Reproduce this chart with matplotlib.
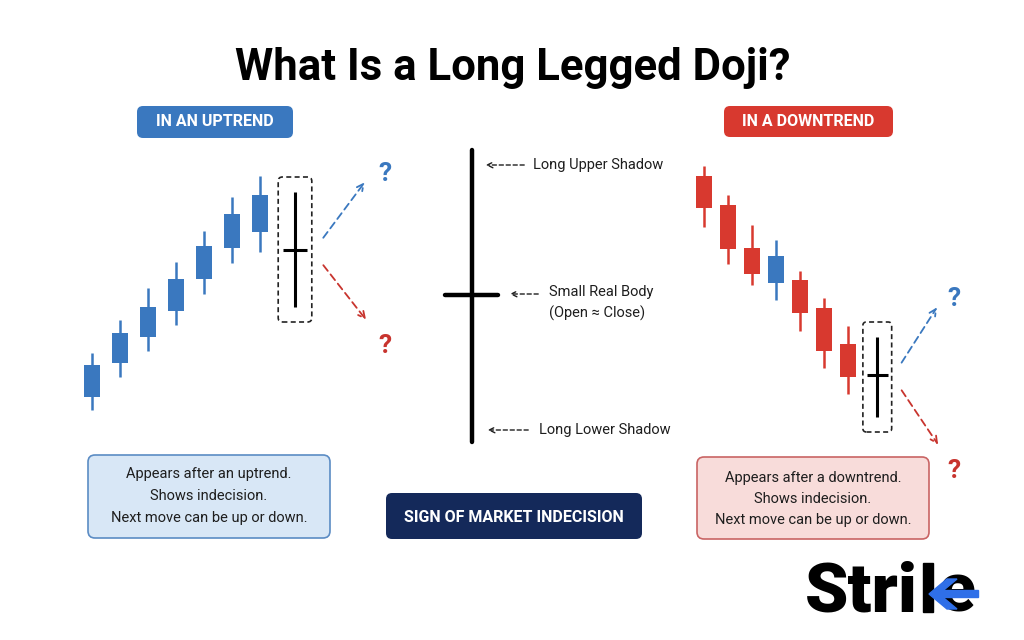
"""Long legged doji infographic: uptrend / downtrend candles and anatomy sketch."""
import matplotlib.pyplot as plt
from matplotlib.patches import FancyBboxPatch, Polygon, Rectangle

plt.rcParams["font.family"] = ["Roboto", "DejaVu Sans"]

BLUE = "#3a78bf"
RED = "#d8392f"
NAVY = "#14295a"
TXT = "#1e1e1e"

# uptrend candles (price units), last one is the doji
up_open = [5.3, 8.7, 11.3, 13.9, 17.1, 20.2, 21.8]
up_close = [8.5, 11.7, 14.3, 17.1, 20.4, 23.6, 25.5]
up_high = [9.7, 13.0, 16.2, 18.8, 21.9, 25.3, 27.4]
up_low = [4.0, 7.3, 9.9, 12.5, 15.6, 18.7, 19.8]
up_doji = {"high": 25.8, "oc": 20.0, "low": 14.3}

# downtrend candles, one bullish bar in the middle
dn_open = [27.4, 24.5, 20.2, 16.7, 17.0, 14.2, 10.6]
dn_close = [24.2, 20.1, 17.6, 19.4, 13.7, 9.9, 7.3]
dn_high = [28.4, 25.5, 22.5, 21.0, 17.9, 15.2, 12.4]
dn_low = [22.3, 18.6, 16.5, 15.0, 11.9, 8.2, 5.6]
dn_doji = {"high": 11.3, "oc": 7.5, "low": 3.3}

up_notes = ["Appears after an uptrend.", "Shows indecision.", "Next move can be up or down."]
dn_notes = ["Appears after a downtrend.", "Shows indecision.", "Next move can be up or down."]
anatomy = ["Long Upper Shadow", "Small Real Body\n(Open \u2248 Close)", "Long Lower Shadow"]


def rbox(ax, x0, y0, x1, y1, fc, ec="none", lw=0, r=6):
    ax.add_patch(FancyBboxPatch((x0, y0), x1 - x0, y1 - y0,
                                boxstyle=f"round,pad=0,rounding_size={r}",
                                fc=fc, ec=ec, lw=lw, zorder=2))


def candles(ax, opens, closes, highs, lows, doji, doji_x, width, px_per_unit):
    for i, (o, c, h, l) in enumerate(zip(opens, closes, highs, lows)):
        col = BLUE if c > o else RED
        ax.vlines(i, l, h, color=col, lw=1.8, zorder=2)
        ax.bar(i, c - o, bottom=o, width=width, color=col, zorder=3)
    # doji, black cross
    ax.vlines(doji_x, doji["low"], doji["high"], color="black", lw=2.2, zorder=3)
    half = width * 0.7
    ax.hlines(doji["oc"], doji_x - half, doji_x + half, color="black", lw=2.2, zorder=3)
    # dashed highlight box
    bw = 0.6
    ax.add_patch(FancyBboxPatch((doji_x - bw, doji["low"] - 1.5), 2 * bw,
                                doji["high"] - doji["low"] + 3.0,
                                boxstyle="round,pad=0,rounding_size=0.15",
                                mutation_aspect=px_per_unit / 10,
                                fc="none", ec="#222222", lw=1.2, ls=(0, (3, 2)), zorder=4))
    # possible next moves
    arr = dict(arrowstyle="->", lw=1.3, ls=(0, (4, 2.5)), mutation_scale=12)
    ax.annotate("", xy=(doji_x + 2.55, doji["oc"] + 7.0), xytext=(doji_x + 0.95, doji["oc"] + 1.0),
                arrowprops=dict(arr, color=BLUE))
    ax.annotate("", xy=(doji_x + 2.6, doji["oc"] - 7.2), xytext=(doji_x + 0.95, doji["oc"] - 1.3),
                arrowprops=dict(arr, color="#c8342e"))
    ax.text(doji_x + 3.2, doji["oc"] + 7.6, "?", color=BLUE, fontsize=19,
            fontweight="bold", ha="center", va="center")
    ax.text(doji_x + 3.2, doji["oc"] - 9.6, "?", color="#c8342e", fontsize=19,
            fontweight="bold", ha="center", va="center")


fig = plt.figure(figsize=(10.24, 6.4), dpi=100)
ax = fig.add_axes([0, 0, 1, 1])
ax.set_xlim(0, 1024)
ax.set_ylim(640, 0)
ax.axis("off")

ax.text(513, 68, "What Is a Long Legged Doji?", fontsize=31.5, fontweight="bold",
        ha="center", va="center", color="black")

# section headers
rbox(ax, 137, 106, 293, 138, BLUE)
ax.text(215, 122, "IN AN UPTREND", color="white", fontsize=11.5, fontweight="bold",
        ha="center", va="center", zorder=3)
rbox(ax, 724, 106, 893, 137, RED)
ax.text(808, 122, "IN A DOWNTREND", color="white", fontsize=11.5, fontweight="bold",
        ha="center", va="center", zorder=3)

# candle panels
up_ax = fig.add_axes([64 / 1024, 0.28125, 336 / 1024, 0.484375])
up_ax.set_xlim(-1, 11)
up_ax.set_ylim(-1, 30)
up_ax.axis("off")
candles(up_ax, up_open, up_close, up_high, up_low, up_doji, 7.25, 0.6, 28)

dn_ax = fig.add_axes([680 / 1024, 0.28125, 288 / 1024, 0.484375])
dn_ax.set_xlim(-1, 11)
dn_ax.set_ylim(-1, 30)
dn_ax.axis("off")
candles(dn_ax, dn_open, dn_close, dn_high, dn_low, dn_doji, 7.22, 0.64, 24)

# anatomy of the doji
ax.plot([472, 472], [150, 442], color="black", lw=3.2, solid_capstyle="round")
ax.plot([445, 498], [295, 295], color="black", lw=3.2, solid_capstyle="round")
lab_arr = dict(arrowstyle="->", lw=1.0, ls=(0, (3, 2)), color=TXT, mutation_scale=10)
for (y, x0, x1, tx), label in zip([(165, 483, 527, 533), (294, 507, 541, 549),
                                   (430, 485, 531, 539)], anatomy):
    ax.annotate("", xy=(x0, y), xytext=(x1, y), arrowprops=lab_arr)
    ax.text(tx, y + (9 if "\n" in label else 0), label, fontsize=10.5, color=TXT,
            ha="left", va="center", linespacing=1.5)

# note boxes
rbox(ax, 88, 455, 330, 538, "#d8e7f6", "#5b8cc4", 1.2, 7)
for k, line in enumerate(up_notes):
    ax.text(209, 474 + 22 * k, line, fontsize=10.5, color=TXT, ha="center", va="center", zorder=3)
rbox(ax, 697, 457, 929, 539, "#f8dcda", "#c96464", 1.2, 7)
for k, line in enumerate(dn_notes):
    ax.text(813, 478 + 21 * k, line, fontsize=10.5, color=TXT, ha="center", va="center", zorder=3)
rbox(ax, 386, 493, 642, 539, NAVY, r=6)
ax.text(514, 517, "SIGN OF MARKET INDECISION", color="white", fontsize=11.5,
        fontweight="bold", ha="center", va="center", zorder=3)

# logo: "Stri" + k stem + blue chevron + "e" with blue bar
renderer = fig.canvas.get_renderer()
t1 = ax.text(805, 612, "Stri", fontsize=50, fontweight="heavy", ha="left",
             va="baseline", color="black")
x_i = t1.get_window_extent(renderer).x1
stem_l = x_i + 5
ax.add_patch(Rectangle((stem_l, 563), 10, 49, color="black", zorder=4))
tip = stem_l + 6
t2 = ax.text(tip + 9, 612, "e", fontsize=50, fontweight="heavy", ha="left",
             va="baseline", color="black")
x_e = t2.get_window_extent(renderer).x1
ax.add_patch(Polygon([(tip, 594), (tip + 18, 579), (tip + 28, 579),
                      (tip + 10, 594), (tip + 28, 609), (tip + 18, 609)],
                     color="#2f6fe8", zorder=5))
ax.add_patch(Polygon([(tip + 4, 590), (x_e + 2, 590), (x_e + 2, 597), (tip + 4, 597)],
                     color="#2f6fe8", zorder=5))

fig.savefig("out.png", dpi=100, facecolor="white")
